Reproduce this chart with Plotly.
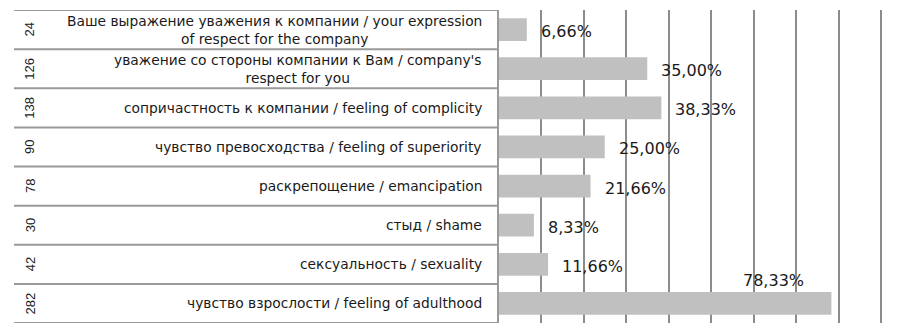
import plotly.graph_objects as go

# Survey responses: number of answers and share of respondents
labels = [
    "Ваше выражение уважения к компании / your expression<br>of respect for the company",
    "уважение со стороны компании к Вам / company's<br>respect for you",
    "сопричастность к компании / feeling of complicity",
    "чувство превосходства / feeling of superiority",
    "раскрепощение / emancipation",
    "стыд / shame",
    "сексуальность / sexuality",
    "чувство взрослости / feeling of adulthood",
]
counts = [24, 126, 138, 90, 78, 30, 42, 282]
shares = [6.66, 35.00, 38.33, 25.00, 21.66, 8.33, 11.66, 78.33]
grid_ticks = [10, 20, 30, 40, 50, 60, 70, 80, 90]

W, H = 900, 335
n = len(labels)
rows = list(range(n))

fig = go.Figure()
fig.add_trace(go.Bar(
    x=shares, y=rows, orientation="h",
    marker=dict(color="#c0c0c0", line=dict(width=0)),
    width=0.58, hoverinfo="skip",
))

GRID = "#8c8c8c"
LINE = "#9a9a9a"
tbl_left, tbl_right = 14 / W, 498 / W

shapes = []
# horizontal rules of the table
for k in range(n + 1):
    shapes.append(dict(type="line", xref="paper", yref="y",
                       x0=tbl_left, x1=tbl_right, y0=k - 0.5, y1=k - 0.5,
                       line=dict(color=LINE, width=2)))
# right border of the label column
shapes.append(dict(type="line", xref="paper", yref="y",
                   x0=tbl_right, x1=tbl_right, y0=-0.5, y1=n - 0.5,
                   line=dict(color=LINE, width=2)))

annotations = []
for i in rows:
    # category label, right-aligned block, centered lines
    annotations.append(dict(
        xref="paper", yref="y", x=484 / W, y=i, xanchor="right", yanchor="middle",
        text=labels[i], showarrow=False, align="center",
        font=dict(family="DejaVu Sans", size=13.8, color="#1a1a1a"),
    ))
    # count column, rotated
    annotations.append(dict(
        xref="paper", yref="y", x=30 / W, y=i, xanchor="center", yanchor="middle",
        text=str(counts[i]), textangle=-90, showarrow=False,
        font=dict(family="Liberation Sans", size=13, color="#1a1a1a"),
    ))
    # value label
    txt = f"{shares[i]:.2f}".replace(".", ",") + "%"
    if shares[i] > 70:
        annotations.append(dict(
            xref="x", yref="y", x=shares[i], y=i, xanchor="right", yanchor="middle",
            xshift=-25, yshift=23, text=txt, showarrow=False,
            font=dict(family="DejaVu Sans", size=16, color="#1a1a1a"),
        ))
    else:
        annotations.append(dict(
            xref="x", yref="y", x=shares[i], y=i, xanchor="left", yanchor="middle",
            xshift=12, yshift=-2, text=txt, showarrow=False,
            font=dict(family="DejaVu Sans", size=16, color="#1a1a1a"),
        ))

x0_px, px_per_pct = 498.5, 4.25
x_max = 92
fig.update_layout(
    width=W, height=H,
    margin=dict(l=0, r=0, t=0, b=0),
    paper_bgcolor="white", plot_bgcolor="white",
    showlegend=False, bargap=0.4,
    xaxis=dict(
        domain=[x0_px / W, (x0_px + x_max * px_per_pct) / W],
        range=[0, x_max], tickvals=grid_ticks, showticklabels=False,
        showgrid=True, gridcolor=GRID, gridwidth=2, zeroline=False,
        showline=False, fixedrange=True,
    ),
    yaxis=dict(
        domain=[1 - 323 / H, 1 - 10 / H],
        range=[n - 0.5, -0.5], showticklabels=False, showgrid=False,
        zeroline=False, showline=False, fixedrange=True,
    ),
    shapes=shapes, annotations=annotations,
)

fig.write_html("out.html")
